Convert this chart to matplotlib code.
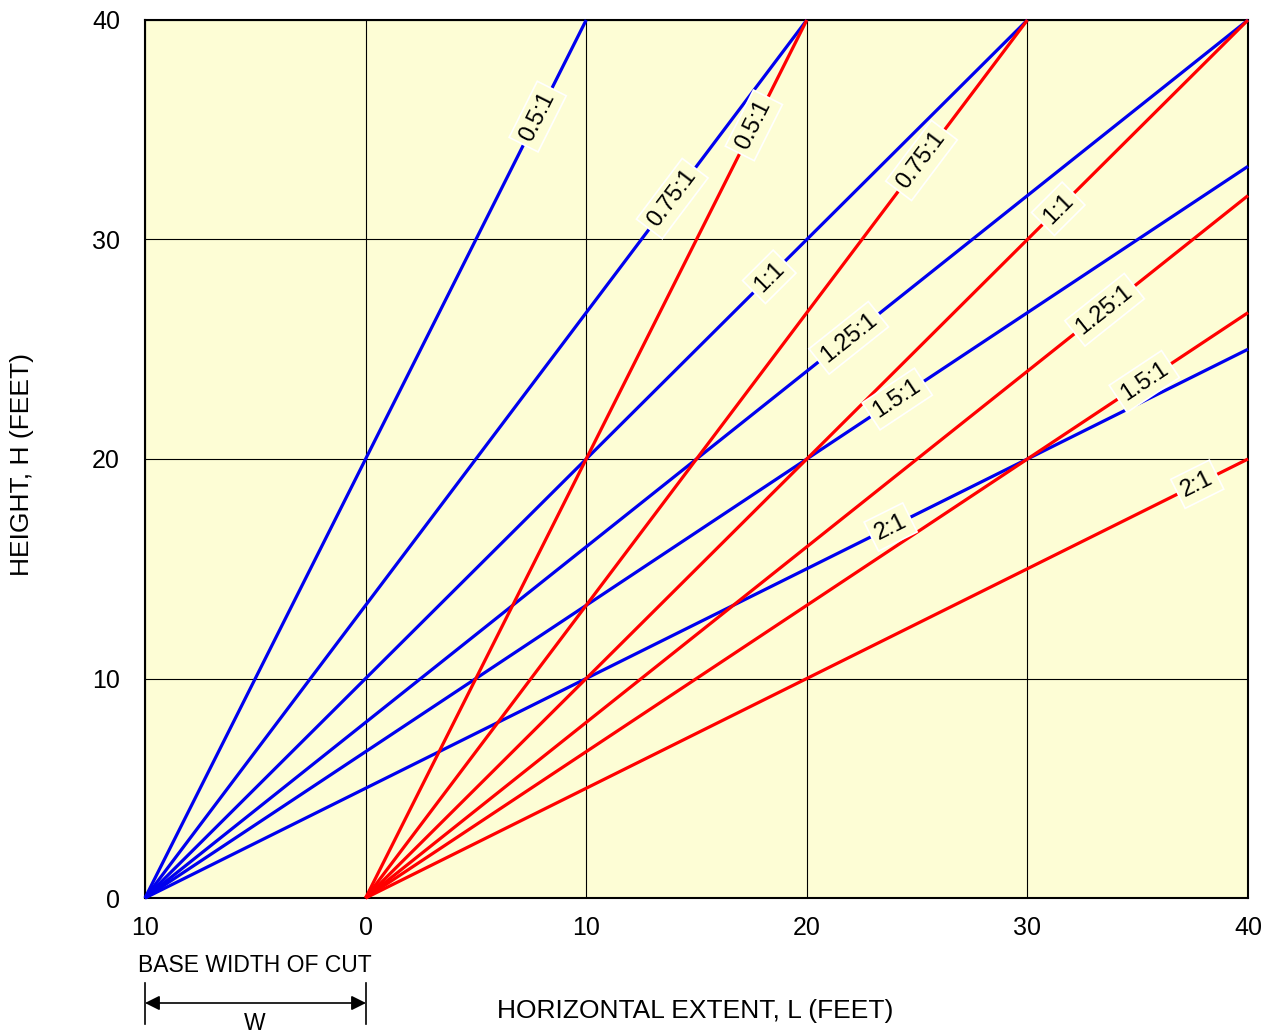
import numpy as np
import matplotlib
matplotlib.use("Agg")
import matplotlib.pyplot as plt

plt.rcParams['font.family'] = ['Liberation Sans', 'DejaVu Sans']

ratios = [0.5, 0.75, 1.0, 1.25, 1.5, 2.0]
ratio_labels = ["0.5:1", "0.75:1", "1:1", "1.25:1", "1.5:1", "2:1"]
blue_origin = -10
red_origin = 0
# label x-positions along each line (data coords)
blue_label_x = [7.8, 13.9, 18.3, 21.9, 24.1, 23.8]
red_label_x = [17.6, 25.2, 31.4, 33.5, 35.3, 37.7]
xticks = [-10, 0, 10, 20, 30, 40]
xtick_labels = ["10", "0", "10", "20", "30", "40"]
yticks = [0, 10, 20, 30, 40]

BG = "#FDFDD5"
fig = plt.figure(figsize=(12.73, 10.34), dpi=100)
ax = fig.add_axes([145/1273, 1-898/1034, (1248-145)/1273, (898-20)/1034])
ax.set_facecolor(BG)
ax.set_xlim(-10, 40)
ax.set_ylim(0, 40)
ax.set_xticks(xticks)
ax.set_xticklabels(xtick_labels)
ax.set_yticks(yticks)
ax.tick_params(length=0, labelsize=18)
ax.tick_params(axis='x', pad=13)
ax.tick_params(axis='y', pad=18)
ax.grid(True, color="black", linewidth=0.8)
ax.set_axisbelow(True)
for s in ax.spines.values():
    s.set_linewidth(1.5)

def draw(origin, color, label_xs):
    for r, lab, lx in zip(ratios, ratio_labels, label_xs):
        xe = min(40, origin + 40 * r)
        xs = np.array([origin, xe])
        ys = (xs - origin) / r
        ax.plot(xs, ys, color=color, linewidth=2.3, solid_capstyle='butt', zorder=3, clip_on=False)
        ly = (lx - origin) / r
        ang = np.degrees(np.arctan(1 / r))
        ax.text(lx, ly, lab, rotation=ang, transform_rotates_text=True,
                rotation_mode='anchor', ha='center', va='center', fontsize=17,
                zorder=5,
                bbox=dict(boxstyle='square,pad=0.22', fc=BG, ec='white', lw=1.2))

draw(blue_origin, "#0000EE", blue_label_x)
draw(red_origin, "#FF0000", red_label_x)

fig.text(22/1273, 1-464/1034, "HEIGHT, H (FEET)", fontsize=19, rotation=90, ha='center', va='center')
fig.text(695/1273, 1-1011/1034, "HORIZONTAL EXTENT, L (FEET)", fontsize=19, ha='center', va='center')
fig.text(255/1273, 1-965/1034, "BASE WIDTH OF CUT", fontsize=16.5, ha='center', va='center')
fig.text(255/1273, 1-1024/1034, "W", fontsize=16.5, ha='center', va='center')

# dimension markers
for px in (145, 366):
    fig.add_artist(plt.Line2D([px/1273, px/1273], [1-983/1034, 1-1024/1034], color='black', lw=1.2))
ax.annotate("", xy=(145/1273, 1-1003/1034), xytext=(366/1273, 1-1003/1034),
            xycoords='figure fraction', textcoords='figure fraction',
            arrowprops=dict(arrowstyle='<|-|>', color='black', lw=1.2, mutation_scale=22, shrinkA=0, shrinkB=0))

fig.savefig("out.png", dpi=100, facecolor='white')
